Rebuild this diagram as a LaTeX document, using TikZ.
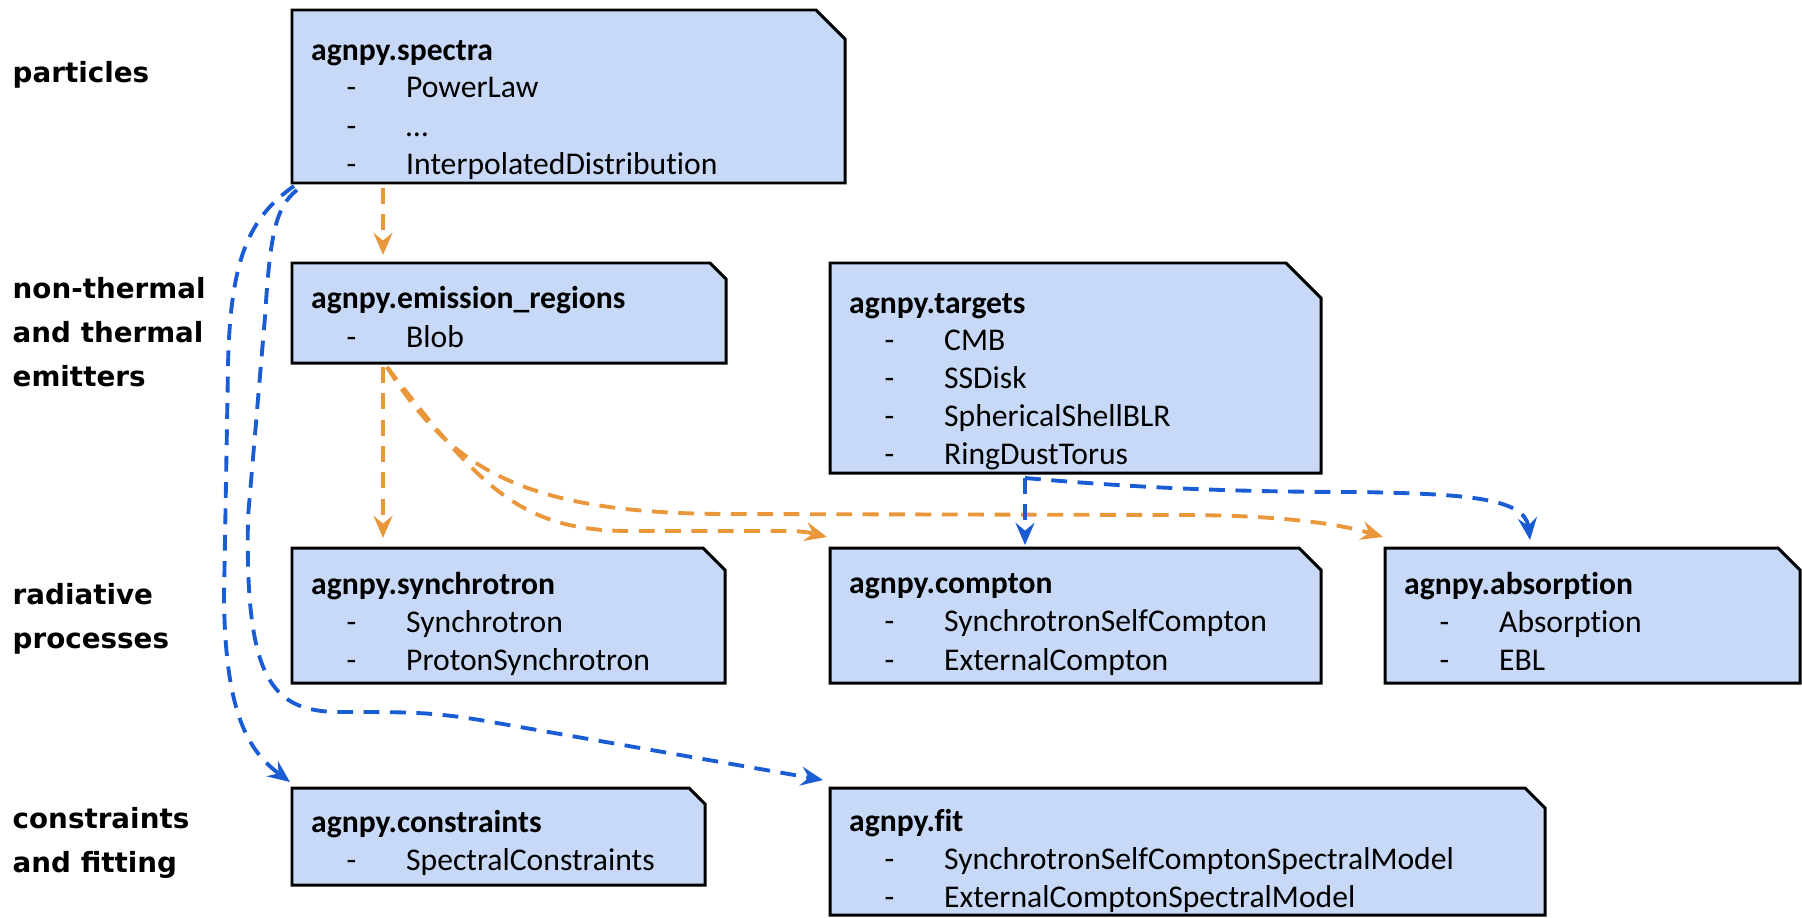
\documentclass[tikz,border=0pt]{standalone}
\usepackage{fontspec}
\setmainfont{Carlito}[Ligatures=NoCommon]
\newfontfamily\lblfont{DejaVu Sans}
\usepackage{tikz}
\usetikzlibrary{arrows.meta}
\definecolor{pkgblue}{RGB}{199,217,246}
\definecolor{arrorange}{RGB}{234,150,58}
\definecolor{arrblue}{RGB}{25,92,212}
\tikzset{>={Stealth[length=6.3pt, width=5.4pt, inset=2.2pt]}}
\tikzset{
  pkgbox/.style = {anchor = north west, inner sep = 0pt, outer sep = 0pt},
  pkgline/.style = {draw = black, fill = pkgblue, line width = 0.85pt, line join = miter},
  pkgtitle/.style = {anchor = base west, inner sep = 0pt, font = \fontsize{9}{11}\selectfont\bfseries},
  pkgitem/.style = {anchor = base west, inner sep = 0pt, font = \fontsize{9}{11}\selectfont},
  layer/.style = {anchor = base west, inner sep = 0pt, font = \lblfont\bfseries\fontsize{7.9}{10}\selectfont},
  oarrow/.style = {->, arrorange, line width = 1.1pt, dash pattern = on 4.5pt off 3pt},
  barrow/.style = {->, arrblue, line width = 1.1pt, dash pattern = on 4.5pt off 3pt}
}
\newcommand{\snipbox}[2]{%
  \draw[pkgline] (#1.south west) -- (#1.north west) -- ([xshift=-#2cm]#1.north east)
    -- ([yshift=-#2cm]#1.north east) -- (#1.south east) -- cycle;}
\newcommand{\li}[1]{\makebox[0.595cm][l]{-}#1}

\begin{document}
\begin{tikzpicture}
\useasboundingbox (0,0) rectangle (18.02,9.17);

\node[layer] (lbl-part) at (0.12, 8.35) {particles};
\node[layer] (lbl-emit1) at (0.12, 6.19) {non-thermal};
\node[layer] (lbl-emit2) at (0.12, 5.75) {and thermal};
\node[layer] (lbl-emit3) at (0.12, 5.31) {emitters};
\node[layer] (lbl-rad1) at (0.12, 3.13) {radiative};
\node[layer] (lbl-rad2) at (0.12, 2.69) {processes};
\node[layer] (lbl-fit1) at (0.12, 0.89) {constraints};
\node[layer] (lbl-fit2) at (0.12, 0.45) {and fitting};

\node[pkgbox, minimum width = 5.53cm, minimum height = 1.73cm] (spectra) at (2.92, 9.07) {};
\node[pkgbox, minimum width = 4.34cm, minimum height = 1.00cm] (emission) at (2.92, 6.54) {};
\node[pkgbox, minimum width = 4.91cm, minimum height = 2.10cm] (targets) at (8.30, 6.54) {};
\node[pkgbox, minimum width = 4.33cm, minimum height = 1.35cm] (synchrotron) at (2.92, 3.69) {};
\node[pkgbox, minimum width = 4.91cm, minimum height = 1.35cm] (compton) at (8.30, 3.69) {};
\node[pkgbox, minimum width = 4.15cm, minimum height = 1.35cm] (absorption) at (13.85, 3.69) {};
\node[pkgbox, minimum width = 4.13cm, minimum height = 0.97cm] (constraints) at (2.92, 1.29) {};
\node[pkgbox, minimum width = 7.15cm, minimum height = 1.27cm] (fit) at (8.30, 1.29) {};

\snipbox{spectra}{0.29}
\snipbox{emission}{0.16}
\snipbox{targets}{0.35}
\snipbox{synchrotron}{0.22}
\snipbox{compton}{0.22}
\snipbox{absorption}{0.22}
\snipbox{constraints}{0.16}
\snipbox{fit}{0.20}

\node[pkgtitle] (spectra-t) at (3.105, 8.57) {agnpy.spectra};
\node[pkgitem] (spectra-1) at (3.46, 8.20) {\li{PowerLaw}};
\node[pkgitem] (spectra-2) at (3.46, 7.81) {\li{…}};
\node[pkgitem] (spectra-3) at (3.46, 7.43) {\li{InterpolatedDistribution}};

\node[pkgtitle] (emission-t) at (3.105, 6.09) {agnpy.emission\_regions};
\node[pkgitem] (emission-1) at (3.46, 5.70) {\li{Blob}};

\node[pkgtitle] (targets-t) at (8.485, 6.04) {agnpy.targets};
\node[pkgitem] (targets-1) at (8.84, 5.67) {\li{CMB}};
\node[pkgitem] (targets-2) at (8.84, 5.29) {\li{SSDisk}};
\node[pkgitem] (targets-3) at (8.84, 4.91) {\li{SphericalShellBLR}};
\node[pkgitem] (targets-4) at (8.84, 4.53) {\li{RingDustTorus}};

\node[pkgtitle] (synchrotron-t) at (3.105, 3.23) {agnpy.synchrotron};
\node[pkgitem] (synchrotron-1) at (3.46, 2.85) {\li{Synchrotron}};
\node[pkgitem] (synchrotron-2) at (3.46, 2.47) {\li{ProtonSynchrotron}};

\node[pkgtitle] (compton-t) at (8.485, 3.24) {agnpy.compton};
\node[pkgitem] (compton-1) at (8.84, 2.86) {\li{SynchrotronSelfCompton}};
\node[pkgitem] (compton-2) at (8.84, 2.47) {\li{ExternalCompton}};

\node[pkgtitle] (absorption-t) at (14.035, 3.23) {agnpy.absorption};
\node[pkgitem] (absorption-1) at (14.39, 2.85) {\li{Absorption}};
\node[pkgitem] (absorption-2) at (14.39, 2.47) {\li{EBL}};

\node[pkgtitle] (constraints-t) at (3.105, 0.85) {agnpy.constraints};
\node[pkgitem] (constraints-1) at (3.46, 0.47) {\li{SpectralConstraints}};

\node[pkgtitle] (fit-t) at (8.485, 0.86) {agnpy.fit};
\node[pkgitem] (fit-1) at (8.84, 0.48) {\li{SynchrotronSelfComptonSpectralModel}};
\node[pkgitem] (fit-2) at (8.84, 0.10) {\li{ExternalComptonSpectralModel}};

\draw[oarrow] ([xshift=0.91cm, yshift=-0.05cm]spectra.south west) -- ([xshift=0.91cm, yshift=0.08cm]emission.north west);
\draw[oarrow] ([xshift=0.91cm, yshift=-0.04cm]emission.south west) -- ([xshift=0.91cm, yshift=0.10cm]synchrotron.north west);
\draw[oarrow] ([xshift=0.95cm, yshift=-0.04cm]emission.south west) .. controls (4.8, 4.3) and (5.2, 3.86) .. (6.3, 3.86)
  -- (7.9, 3.86) .. controls (8.05, 3.86) and (8.15, 3.83) .. ([xshift=-0.03cm, yshift=0.11cm]compton.north west);
\draw[oarrow] ([xshift=0.95cm, yshift=-0.04cm]emission.south west) .. controls (4.5, 4.5) and (5.2, 4.03) .. (7.3, 4.03)
  -- (11.8, 4.02) .. controls (12.8, 4.02) and (13.4, 3.93) .. ([xshift=-0.02cm, yshift=0.11cm]absorption.north west);

\draw[barrow] ([xshift=1.95cm, yshift=-0.05cm]targets.south west) -- ([xshift=1.95cm, yshift=0.03cm]compton.north west);
\draw[barrow] ([xshift=1.95cm, yshift=-0.05cm]targets.south west) .. controls (11.5, 4.28) and (12.5, 4.25) .. (13.6, 4.25)
  .. controls (14.6, 4.23) and (15.25, 4.2) .. ([xshift=1.45cm, yshift=0.08cm]absorption.north west);
\draw[barrow] ([xshift=0.02cm, yshift=-0.03cm]spectra.south west) .. controls (2.5, 7.0) and (2.3, 6.6) .. (2.28, 5.5)
  -- (2.24, 3.2) .. controls (2.25, 2.0) and (2.5, 1.65) .. ([xshift=-0.02cm, yshift=0.06cm]constraints.north west);
\draw[barrow] ([xshift=0.05cm, yshift=-0.07cm]spectra.south west) .. controls (2.75, 7.1) and (2.7, 6.8) .. (2.65, 6.0)
  -- (2.48, 4.0) .. controls (2.45, 2.4) and (2.7, 2.05) .. (3.4, 2.05)
  .. controls (4.1, 2.05) and (4.3, 2.05) .. (4.8, 1.97) -- ([xshift=-0.07cm, yshift=0.08cm]fit.north west);
\end{tikzpicture}
\end{document}
